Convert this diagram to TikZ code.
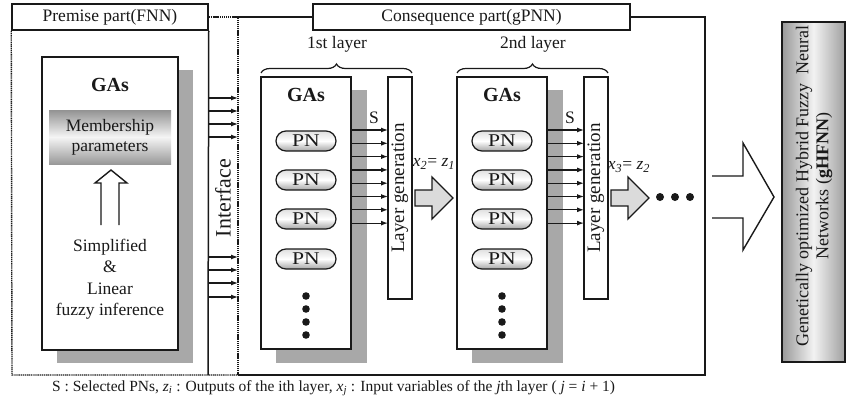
\documentclass[tikz,border=0pt]{standalone}
\usepackage{fontspec}
\setmainfont{Liberation Serif}
\usetikzlibrary{decorations.pathreplacing,shapes.misc,arrows.meta}

\definecolor{ink}{gray}{0.1}
\definecolor{shadowgray}{gray}{0.66}
\newcommand\vsub[2]{\textit{#1}\textsubscript{\textit{#2}}}

\tikzset{
  frame/.style={draw=ink, line width=1.5pt},
  dotframe/.style={draw=ink, line width=1.4pt, dash pattern=on 1.2pt off 0.7pt},
  lbl/.style={font=\fontsize{17.5}{21}\selectfont, text=ink},
  gatitle/.style={font=\fontsize{20}{24}\selectfont\bfseries, text=ink},
  pnbox/.style={rounded rectangle, draw=ink, line width=1.2pt, minimum width=60pt,
    minimum height=20pt, inner sep=0pt, top color=gray!25, bottom color=gray!70,
    middle color=white, font=\fontsize{18}{20}\selectfont, text=ink},
  sel/.style={-{Latex[length=7pt,width=5pt]}, draw=ink, line width=1.2pt},
  blockarrow/.style={draw=ink, line width=1.3pt, fill=gray!28},
  hollow/.style={draw=ink, line width=1.4pt},
}

\begin{document}
\begin{tikzpicture}[x=1pt,y=-1pt]
\useasboundingbox (0,0) rectangle (846,407);

% ---------- premise part ----------
\node[frame, fill=white, minimum width=196pt, minimum height=26pt, inner sep=0pt, lbl] (prem) at (110,17) {Premise part(FNN)};
\draw[dotframe] (prem.south west) -- (12,375) coordinate (pbl) -- (238,375) coordinate (ibr);
\draw[frame] (prem.south east) -- (208,375);

% interface column
\coordinate (itl) at (238,17);
\draw[dotframe] (prem.east) -- (itl) -- (ibr);
\node[rotate=90, font=\fontsize{22}{24}\selectfont, text=ink] (iface) at (223,198) {Interface};

% GAs block of the premise part
\fill[shadowgray] (57,70) rectangle (193,363);
\node[frame, fill=white, minimum width=136pt, minimum height=293pt, inner sep=0pt] (pga) at (110,203.5) {};
\node[gatitle] (pgat) at (110,85) {GAs};
\node[minimum width=122pt, minimum height=54pt, inner sep=0pt, top color=gray!85,
      bottom color=gray!80, middle color=gray!8, lbl, align=center] (memb) at (110,137)
      {Membership\\[-1pt]parameters};
\draw[hollow] (101,225) -- (101,183) -- (95,183) -- (111,170) -- (127,183) -- (119,183) -- (119,225);
\node[lbl, align=center, font=\fontsize{17.5}{21.5}\selectfont] (infer) at (110,279)
      {Simplified\\\&\\Linear\\fuzzy inference};

% arrows through the interface
\foreach \y in {98,111,124,137,257,270,283,297}
  \draw[sel] (208,\y) -- (238,\y);

% ---------- consequence part ----------
\node[frame, fill=white, minimum width=317pt, minimum height=26pt, inner sep=0pt, lbl] (cons) at (471.5,17) {Consequence part(gPNN)};
\draw[frame] (itl) -- (cons.west);
\draw[frame] (cons.east) -- (705,17) -- (705,375) -- (ibr);

% the two PN layers
\foreach \dx/\ord/\nm in {0/1st/1, 196/2nd/2} {
  \begin{scope}[xshift=\dx pt]
    \draw[decorate, decoration={brace, amplitude=9pt}, draw=ink, line width=1.2pt] (261,73) -- (412,73);
    \node[lbl] (lay\nm) at (337,44) {\ord{} layer};
    \fill[shadowgray] (276,90) rectangle (367,363);
    \node[frame, fill=white, minimum width=90pt, minimum height=272pt, inner sep=0pt] (ga\nm) at (306,213) {};
    \node[gatitle] (gat\nm) at (306,95) {GAs};
    \foreach \k/\y in {a/141,b/180,c/219,d/259}
      \node[pnbox] (pn\nm\k) at (306,\y) {\scalebox{1.2}[1]{PN}};
    \foreach \y in {296,309,322,335}
      \fill[ink] (306,\y) circle (3.8pt);
    \node[frame, fill=white, minimum width=24pt, minimum height=222pt, inner sep=0pt] (gen\nm) at (400,188) {};
    \node[rotate=90, font=\fontsize{19}{21}\selectfont, text=ink] at (gen\nm) {Layer generation};
    \foreach \y in {130,143.3,156.6,169.9,183.2,196.5,209.8,223.1}
      \draw[sel] (351,\y) -- (388,\y);
    \node[lbl] (s\nm) at (374,118) {S};
    \draw[blockarrow] (415,190) -- (432,190) -- (432,177) -- (453,198) -- (432,219) -- (432,206) -- (415,206) -- cycle;
  \end{scope}
}
\node[lbl] (x2) at (434,164) {\vsub{x}{2}= \vsub{z}{1}};
\node[lbl] (x3) at (629,167) {\vsub{x}{3}= \vsub{z}{2}};
\foreach \x in {660,675,690}
  \fill[ink] (\x,197) circle (4pt);

% ---------- output ----------
\draw[hollow] (712,176) -- (743,176) -- (743,143) -- (774,197) -- (743,250) -- (743,218) -- (712,218);
\node[draw=ink, line width=1.3pt, minimum width=63pt, minimum height=340pt, inner sep=0pt,
      left color=gray!80, right color=gray!75, middle color=gray!10] (ghfnn) at (813.5,192) {};
\node[rotate=90, align=center, font=\fontsize{18}{20}\selectfont, text=ink] at (814,186)
      {Genetically optimized Hybrid Fuzzy\ \ Neural\\Networks (\textbf{gHFNN})};

% ---------- legend ----------
\node[anchor=west, font=\fontsize{15.5}{18}\selectfont, text=ink, inner sep=0pt] (legend) at (52,388)
  {S : Selected PNs, \vsub{z}{i} : Outputs of the ith layer, \vsub{x}{j} : Input variables of the \textit{j}th layer ( \textit{j} = \textit{i} + 1)};
\end{tikzpicture}
\end{document}
